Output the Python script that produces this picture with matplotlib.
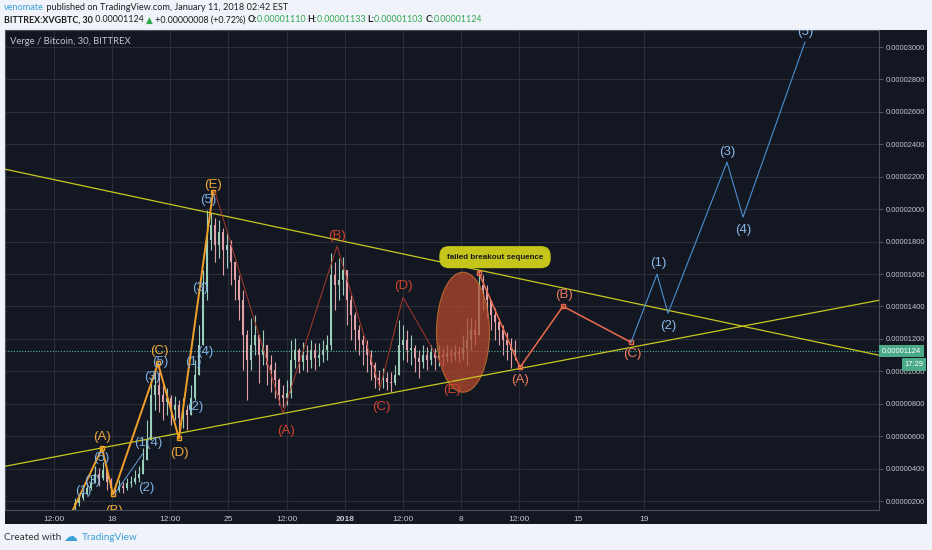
import matplotlib
matplotlib.use("Agg")
import numpy as np
import matplotlib.pyplot as plt
from matplotlib.patches import Ellipse, Rectangle
from matplotlib.transforms import blended_transform_factory
from matplotlib.ticker import FuncFormatter

W, H = 932, 550

# 30-minute candles, prices in satoshi (1e-8 BTC)
first_open = 170
closes = [185, 216, 241, 278, 309, 364, 340, 389, 315, 278,
          265, 290, 278, 309, 315, 340, 364, 451, 574, 852,
          914, 852, 809, 833, 759, 790, 710, 759, 728, 833,
          975, 1160, 1500, 1809, 1901, 1778, 1858, 1747, 1778, 1673,
          1562, 1438, 1222, 1068, 1160, 1222, 1099, 1160, 1037, 1006,
          944, 852, 833, 864, 1068, 1130, 1056, 1099, 1068, 1130,
          1080, 1099, 1130, 1160, 1593, 1531, 1562, 1623, 1438, 1346,
          1253, 1191, 1160, 1099, 1037, 957, 944, 957, 932, 926,
          975, 1160, 1191, 1130, 1142, 1080, 1056, 1099, 1068, 1117,
          1080, 1099, 1086, 1111, 1093, 1117, 1105, 1142, 1191, 1253,
          1222, 1531, 1500, 1438, 1346, 1302, 1253, 1191, 1160, 1130,
          1124]
highs = [216, 241, 278, 315, 352, 414, 401, 438, 377, 340,
         302, 327, 315, 340, 352, 389, 414, 525, 698, 957,
         1006, 994, 914, 895, 852, 846, 821, 833, 790, 914,
         1068, 1284, 1623, 1994, 1975, 1944, 1932, 1883, 1852, 1809,
         1673, 1593, 1500, 1253, 1327, 1346, 1222, 1253, 1160, 1099,
         1056, 957, 914, 944, 1191, 1204, 1142, 1179, 1160, 1191,
         1173, 1173, 1191, 1222, 1728, 1673, 1698, 1704, 1574, 1469,
         1364, 1284, 1222, 1191, 1130, 1056, 1006, 1019, 994, 994,
         1037, 1315, 1284, 1253, 1222, 1160, 1130, 1160, 1148, 1160,
         1142, 1160, 1142, 1160, 1142, 1160, 1154, 1222, 1327, 1327,
         1315, 1623, 1593, 1531, 1438, 1389, 1327, 1284, 1241, 1204,
         1191]
lows = [142, 167, 204, 235, 265, 315, 290, 327, 265, 241,
        228, 253, 247, 265, 284, 302, 315, 377, 481, 636,
        759, 747, 698, 728, 667, 698, 623, 648, 636, 728,
        821, 1006, 1253, 1438, 1747, 1673, 1698, 1593, 1636, 1531,
        1438, 1315, 1006, 821, 1006, 1099, 926, 1037, 914, 870,
        833, 790, 778, 790, 833, 1019, 988, 1006, 994, 1019,
        1006, 1031, 1056, 1068, 1130, 1377, 1438, 1469, 1284, 1191,
        1130, 1099, 1037, 994, 944, 895, 883, 895, 883, 870,
        914, 975, 1068, 1056, 1037, 994, 957, 1019, 1006, 1037,
        1006, 1031, 1031, 1056, 1056, 1068, 1056, 1068, 1037, 1130,
        1160, 1222, 1377, 1327, 1253, 1191, 1160, 1099, 1068, 1019,
        1068]
last_price = 1124

# time axis (bar index positions)
tick_pos = [-5.25, 9.25, 23.75, 38.25, 53, 67.5, 82, 96.5, 111, 125.75, 142.25]
tick_labels = ["12:00", "18", "12:00", "25", "12:00", "2018", "12:00", "8", "12:00", "15", "19"]
price_ticks = list(range(200, 3001, 200))

# triangle trendlines
upper_x, upper_y = [-18.75, 201], [2253, 1099]
lower_x, lower_y = [-17.5, 201], [414, 1438]

# wave counts
orange_x = [-1.75, 6.75, 9.5, 20.75, 26, 34.5]
orange_y = [80, 525, 241, 1049, 586, 2105]
sub_x, sub_y = [10, 17], [247, 494]
red_x = [35, 52, 65.5, 76.25, 82, 94.25]
red_y = [2105, 741, 1772, 895, 1457, 926]
salmon_x = [101, 111.25, 122, 139]
salmon_y = [1605, 1025, 1401, 1179]
future_x = [139, 145.5, 148.25, 163, 167, 182.5]
future_y = [1179, 1599, 1358, 2290, 1951, 3031]

orange_labels = ["(A)", "(B)", "(C)", "(D)", "(E)"]
orange_lx = [6.75, 9.75, 21, 26, 34.5]
orange_ly = [593, 136, 1123, 494, 2148]
sub_labels = ["(1)", "(3)", "(5)", "(2)", "(1(4)", "(3)", "(5)", "(2)", "(1)", "(4)", "(3)", "(5)"]
sub_lx = [2, 4.25, 6.5, 17.75, 18.25, 19.25, 21.25, 30, 29.5, 32.5, 31.25, 33.25]
sub_ly = [259, 321, 463, 278, 556, 963, 1056, 778, 1056, 1117, 1512, 2056]
red_labels = ["(A)", "(B)", "(C)", "(D)", "(E)"]
red_lx = [52.75, 65.5, 76.5, 82, 94.25]
red_ly = [630, 1833, 778, 1525, 883]
salmon_labels = ["(A)", "(B)", "(C)"]
salmon_lx = [111.25, 122.25, 139.25]
salmon_ly = [944, 1469, 1105]
future_labels = ["(1)", "(2)", "(3)", "(4)", "(5)"]
future_lx = [145.75, 148.25, 163, 167, 182.5]
future_ly = [1667, 1278, 2352, 1870, 3093]

BG = "#131722"
GRID = "#2a2e39"
AXTXT = "#c3c7d0"
UP, DOWN = "#9ccfba", "#e2a2aa"
FONT = ["Liberation Sans", "DejaVu Sans"]
HEAD = ["Lato", "DejaVu Sans"]

plt.rcParams["font.family"] = FONT

fig = plt.figure(figsize=(W / 100, H / 100), dpi=100)
fig.patch.set_facecolor("#f0f3fa")
fig.add_artist(Rectangle((5 / W, 1 - 524 / H), 922 / W, 494 / H, transform=fig.transFigure,
                         fc=BG, ec="none", zorder=-5))
ax = fig.add_axes([5 / W, 1 - 510 / H, 874 / W, 480 / H])
ax.set_facecolor(BG)
ax.set_xlim(-17.5, 201)
ax.set_ylim(144.5, 3105)

# candles
x = np.arange(len(closes))
c = np.array(closes, dtype=float)
o = np.array([first_open] + closes[:-1], dtype=float)
h = np.maximum(np.array(highs), np.maximum(o, c))
l = np.minimum(np.array(lows), np.minimum(o, c))
cols = np.where(c >= o, UP, DOWN)
ax.vlines(x, l, h, colors=cols, lw=0.8, zorder=2)
ax.bar(x, np.maximum(np.abs(c - o), 4), bottom=np.minimum(o, c), width=0.7, color=cols, lw=0, zorder=3)

ax.axhline(last_price, color="#4db89a", lw=0.8, ls=(0, (1, 1.5)), zorder=2)

# failed breakout zone
ax.add_patch(Ellipse((97, 1241), 13.25, 740, fc="#b5482e", ec="#d07a30", lw=0.8, alpha=0.75, zorder=4))

ax.plot(upper_x, upper_y, color="#c8c820", lw=0.9, zorder=5)
ax.plot(lower_x, lower_y, color="#c8c820", lw=0.9, zorder=5)

ax.plot(orange_x, orange_y, color="#f0a028", lw=1.4, zorder=6, marker="s", ms=2.5, mfc="none")
ax.plot(sub_x, sub_y, color="#5f9fd8", lw=0.7, zorder=6)
ax.plot(red_x, red_y, color="#a8382a", lw=0.7, zorder=6)
ax.plot(salmon_x, salmon_y, color="#ec6a4c", lw=1.1, zorder=6, marker="s", ms=2.5, mfc="none")
ax.plot(future_x, future_y, color="#4a8fd0", lw=0.8, zorder=6)

def put_labels(labels, lx, ly, color):
    for s, px, py in zip(labels, lx, ly):
        ax.text(px, py, s, color=color, fontsize=9.5, ha="center", va="center", zorder=7, clip_on=True)

put_labels(orange_labels, orange_lx, orange_ly, "#f0a83a")
put_labels(sub_labels, sub_lx, sub_ly, "#7fb0e2")
put_labels(red_labels, red_lx, red_ly, "#d4452f")
put_labels(salmon_labels, salmon_lx, salmon_ly, "#f07c60")
put_labels(future_labels, future_lx, future_ly, "#8ab8e6")

ax.annotate("failed breakout sequence", xy=(95, 1643), xytext=(105, 1704),
            ha="center", va="center", fontsize=5.8, fontweight="bold", color="#1b1b1b", zorder=8,
            bbox=dict(boxstyle="round,pad=0.85,rounding_size=1.1", fc="#c5c51c", ec="#c5c51c"),
            arrowprops=dict(arrowstyle="wedge,tail_width=0.5", fc="#c5c51c", ec="#c5c51c",
                            shrinkA=0, shrinkB=0))

# axes styling
ax.yaxis.tick_right()
ax.set_yticks(price_ticks)
ax.yaxis.set_major_formatter(FuncFormatter(lambda v, p: f"{v * 1e-8:.8f}"))
ax.set_xticks(tick_pos, tick_labels)
for t in ax.get_xticklabels():
    if t.get_text() == "2018":
        t.set_fontweight("bold")
ax.tick_params(axis="y", labelsize=5.4, labelcolor=AXTXT, color="#4a4f5c", length=3, pad=2)
ax.tick_params(axis="x", labelsize=6, labelcolor=AXTXT, length=0, pad=4)
ax.grid(True, color=GRID, lw=0.8)
ax.set_axisbelow(True)
for sp in ax.spines.values():
    sp.set_color("#4a4f5c")
    sp.set_linewidth(0.8)

ax.text(0.0057, 0.975, "Verge / Bitcoin, 30, BITTREX", transform=ax.transAxes, color="#c0c4cc",
        fontsize=6.8, family=HEAD, va="center", ha="left")

# last price boxes on the price scale
btr = blended_transform_factory(ax.transAxes, ax.transData)
ax.annotate(f"{last_price * 1e-8:.8f}", xy=(1, last_price), xycoords=btr, xytext=(2, 0),
            textcoords="offset points", ha="left", va="center", fontsize=5.4, color="white",
            bbox=dict(boxstyle="square,pad=0.35", fc="#4aa987", ec="none"), annotation_clip=False)
ax.annotate("17:29", xy=(1, last_price), xycoords=btr, xytext=(32, -9.5),
            textcoords="offset points", ha="right", va="center", fontsize=5.4, color="white",
            bbox=dict(boxstyle="square,pad=0.35", fc="#4aa987", ec="none"), annotation_clip=False)

# header lines
renderer = fig.canvas.get_renderer()

def chain(pieces, x0, y, size):
    xp = x0
    for s, color, weight in pieces:
        t = fig.text(xp / W, 1 - y / H, s, color=color, fontweight=weight, fontsize=size,
                     family=HEAD, va="center", ha="left")
        xp += t.get_window_extent(renderer).width

GREEN = "#2fa84f"
DARK = "#1e1e1e"
chain([("venomate", "#3aa0d8", "normal"),
       (" published on TradingView.com, January 11, 2018 02:42 EST", DARK, "normal")], 4, 7.5, 6.6)
chain([("BITTREX:XVGBTC, 30", DARK, "bold"),
       (" 0.00001124 ", DARK, "normal"), ("▲", GREEN, "normal"),
       (" +0.00000008 (+0.72%) ", DARK, "normal"),
       ("O:", DARK, "bold"), ("0.00001110 ", GREEN, "normal"),
       ("H:", DARK, "bold"), ("0.00001133 ", GREEN, "normal"),
       ("L:", DARK, "bold"), ("0.00001103 ", GREEN, "normal"),
       ("C:", DARK, "bold"), ("0.00001124", GREEN, "normal")], 4, 20, 6.4)

chain([("Created with", "#333333", "normal")], 4, 538, 7.2)
fig.text(70 / W, 1 - 537 / H, "☁", color="#3aa0d8", fontsize=10, family="DejaVu Sans", ha="center", va="center")
fig.text(82 / W, 1 - 538 / H, "TradingView", color="#3aa0d8", fontsize=7.2, family=HEAD, ha="left", va="center")

fig.savefig("out.png", dpi=100, facecolor=fig.get_facecolor())
